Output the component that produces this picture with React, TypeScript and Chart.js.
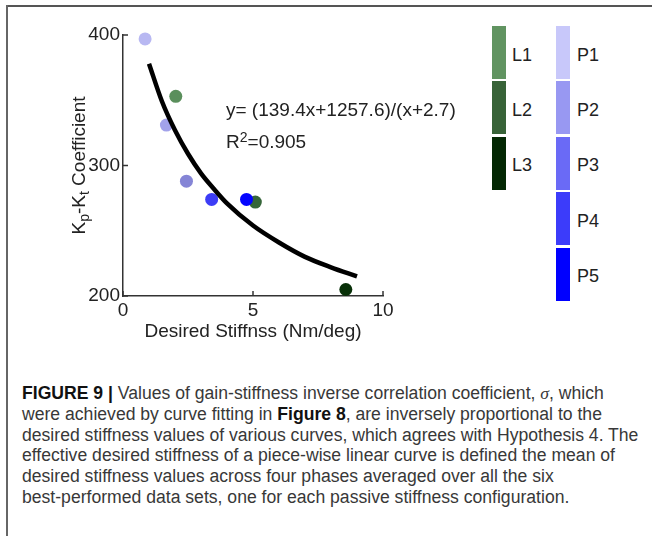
import React, { useEffect, useRef } from 'react';
import { Chart, registerables } from 'chart.js';

Chart.register(...registerables);

// ---- data ----
const pNames = ['P1', 'P2', 'P3', 'P4', 'P5'];
const pStiffness = [0.85, 1.67, 2.44, 3.41, 4.75];
const pCoeff = [397, 331, 288, 274, 274];

const lNames = ['L1', 'L2', 'L3'];
const lStiffness = [2.03, 5.09, 8.57];
const lCoeff = [353, 272, 205];

const fitStiffness = [1, 1.5, 2, 2.5, 3, 3.5, 4, 5, 6, 7, 8, 9];
const fitCoeff = [378, 349, 327, 309, 294, 282, 271, 254, 241, 230, 222, 215];

const xTicks = [0, 5, 10];
const yTicks = [200, 300, 400];

const pDotColors = ['#b8b8f2', '#a2a2ea', '#8585d6', '#3c3cf6', '#0505ff'];
const lDotColors = ['#5a8f5c', '#36663a', '#083008'];
const pLegendColors = ['#c8c8fa', '#9898f2', '#6a6af6', '#3c3cfa', '#0000ff'];
const lLegendColors = ['#619461', '#386338', '#042804'];

const FONT = '"Liberation Sans", Arial, sans-serif';

const axisDecor = {
  id: 'axisDecor',
  afterDraw(chart: any) {
    const { ctx, chartArea, scales } = chart;
    ctx.save();
    ctx.strokeStyle = '#333';
    ctx.lineWidth = 1.5;
    xTicks.forEach((v) => {
      const x = scales.x.getPixelForValue(v);
      ctx.beginPath();
      ctx.moveTo(x, chartArea.bottom);
      ctx.lineTo(x, chartArea.bottom - 5);
      ctx.stroke();
    });
    yTicks.forEach((v) => {
      const y = scales.y.getPixelForValue(v);
      ctx.beginPath();
      ctx.moveTo(chartArea.left, y);
      ctx.lineTo(chartArea.left + 5, y);
      ctx.stroke();
    });
    // y-axis title with subscripts
    const segs: [string, number, number][] = [
      ['K', 19, 0],
      ['p', 14, 5],
      ['-K', 19, 0],
      ['t', 14, 5],
      [' Coefficient', 19, 0],
    ];
    let total = 0;
    segs.forEach(([t, s]) => {
      ctx.font = `${s}px ${FONT}`;
      total += ctx.measureText(t).width;
    });
    ctx.translate(80, (chartArea.top + chartArea.bottom) / 2);
    ctx.rotate(-Math.PI / 2);
    ctx.fillStyle = '#222';
    ctx.textBaseline = 'middle';
    ctx.textAlign = 'left';
    let x = -total / 2;
    segs.forEach(([t, s, dy]) => {
      ctx.font = `${s}px ${FONT}`;
      ctx.fillText(t, x, dy);
      x += ctx.measureText(t).width;
    });
    ctx.restore();
  },
};

function ChartCanvas() {
  const ref = useRef<HTMLCanvasElement | null>(null);
  useEffect(() => {
    if (!ref.current) return;
    const chart = new Chart(ref.current, {
      type: 'scatter',
      data: {
        datasets: [
          {
            label: 'fit',
            data: fitStiffness.map((x, i) => ({ x, y: fitCoeff[i] })),
            showLine: true,
            borderColor: '#000',
            borderWidth: 4.5,
            pointRadius: 0,
            cubicInterpolationMode: 'monotone',
            fill: false,
            clip: false,
          } as any,
          {
            label: 'P',
            data: pStiffness.map((x, i) => ({ x, y: pCoeff[i] })),
            backgroundColor: pDotColors,
            pointBackgroundColor: pDotColors,
            pointBorderWidth: 0,
            pointRadius: 6.5,
            clip: false,
          } as any,
          {
            label: 'L',
            data: lStiffness.map((x, i) => ({ x, y: lCoeff[i] })),
            backgroundColor: lDotColors,
            pointBackgroundColor: lDotColors,
            pointBorderWidth: 0,
            pointRadius: 6.5,
            clip: false,
          } as any,
        ],
      },
      options: {
        animation: false,
        responsive: false,
        maintainAspectRatio: false,
        layout: { padding: { top: 35, right: 37, left: 0, bottom: 0 } },
        plugins: { legend: { display: false }, tooltip: { enabled: false } },
        scales: {
          x: {
            type: 'linear',
            min: 0,
            max: 10,
            afterBuildTicks: (s: any) => {
              s.ticks = xTicks.map((v) => ({ value: v }));
            },
            afterFit: (s: any) => {
              s.height = 54;
              s.paddingLeft = 0;
              s.paddingRight = 0;
            },
            grid: { display: false, drawTicks: false },
            border: { display: true, color: '#333', width: 1.5 },
            ticks: {
              padding: 3,
              color: '#222',
              font: { family: FONT, size: 19 },
              maxRotation: 0,
              autoSkip: false,
            },
            title: {
              display: true,
              text: 'Desired Stiffnss (Nm/deg)',
              color: '#222',
              font: { family: FONT, size: 19 },
              padding: { top: 0, bottom: 7 },
            },
          },
          y: {
            type: 'linear',
            min: 200,
            max: 400,
            afterBuildTicks: (s: any) => {
              s.ticks = yTicks.map((v) => ({ value: v }));
            },
            afterFit: (s: any) => {
              s.width = 123;
              s.paddingTop = 0;
              s.paddingBottom = 0;
            },
            grid: { display: false, drawTicks: false },
            border: { display: true, color: '#333', width: 1.5 },
            ticks: {
              padding: 3,
              color: '#222',
              font: { family: FONT, size: 19 },
              autoSkip: false,
            },
            title: { display: false },
          },
        },
      } as any,
      plugins: [axisDecor],
    });
    return () => chart.destroy();
  }, []);
  return (
    <canvas
      ref={ref}
      width={420}
      height={350}
      style={{ position: 'absolute', left: 0, top: 0, width: 420, height: 350 }}
    />
  );
}

const LEG_TOP = 26;
const LEG_STEP = 55.4;
const LEG_H = 53;

export default function App() {
  const captionLine: React.CSSProperties = { whiteSpace: 'nowrap', height: 20.8 };
  return (
    <div
      style={{
        position: 'fixed',
        left: 0,
        top: 0,
        width: 652,
        height: 536,
        background: '#fff',
        overflow: 'hidden',
        fontFamily: FONT,
      }}
    >
      <div style={{ position: 'absolute', left: 6, top: 5, width: 646, height: 2, background: '#555' }} />
      <div style={{ position: 'absolute', left: 6, top: 5, width: 2, height: 531, background: '#666' }} />
      <ChartCanvas />
      <div style={{ position: 'absolute', left: 226, top: 99, fontSize: 19, lineHeight: '22px', color: '#222', whiteSpace: 'nowrap' }}>
        y= (139.4x+1257.6)/(x+2.7)
      </div>
      <div style={{ position: 'absolute', left: 226, top: 131, fontSize: 19, lineHeight: '22px', color: '#222', whiteSpace: 'nowrap' }}>
        R<span style={{ fontSize: 14, position: 'relative', top: -6 }}>2</span>=0.905
      </div>
      {lNames.map((n, i) => (
        <React.Fragment key={n}>
          <div style={{ position: 'absolute', left: 492, top: LEG_TOP + i * LEG_STEP, width: 14, height: LEG_H, background: lLegendColors[i] }} />
          <div style={{ position: 'absolute', left: 512, top: LEG_TOP + i * LEG_STEP + LEG_H / 2 - 9, fontSize: 18, lineHeight: '22px', color: '#222' }}>{n}</div>
        </React.Fragment>
      ))}
      {pNames.map((n, i) => (
        <React.Fragment key={n}>
          <div style={{ position: 'absolute', left: 556, top: LEG_TOP + i * LEG_STEP, width: 14, height: LEG_H, background: pLegendColors[i] }} />
          <div style={{ position: 'absolute', left: 577, top: LEG_TOP + i * LEG_STEP + LEG_H / 2 - 9, fontSize: 18, lineHeight: '22px', color: '#222' }}>{n}</div>
        </React.Fragment>
      ))}
      <div style={{ position: 'absolute', left: 22, top: 383, fontSize: 17.6, lineHeight: '20.8px', color: '#383838' }}>
        <div style={captionLine}>
          <b style={{ color: '#111' }}>FIGURE 9 |</b> Values of gain-stiffness inverse correlation coefficient,{' '}
          <i style={{ fontFamily: '"Liberation Serif", serif' }}>σ</i>, which
        </div>
        <div style={captionLine}>
          were achieved by curve fitting in <b style={{ color: '#111' }}>Figure 8</b>, are inversely proportional to the
        </div>
        <div style={captionLine}>
          desired stiffness values of various curves, which agrees with Hypothesis 4. The
        </div>
        <div style={captionLine}>
          effective desired stiffness of a piece-wise linear curve is defined the mean of
        </div>
        <div style={captionLine}>
          desired stiffness values across four phases averaged over all the six
        </div>
        <div style={captionLine}>
          best-performed data sets, one for each passive stiffness configuration.
        </div>
      </div>
    </div>
  );
}
